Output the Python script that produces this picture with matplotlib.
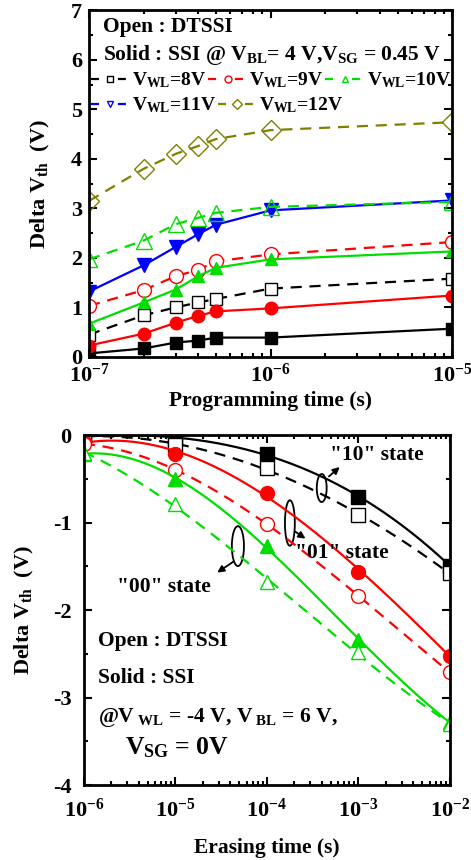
import matplotlib
matplotlib.use("Agg")
import matplotlib.pyplot as plt
from matplotlib.patches import Arc
from matplotlib.lines import Line2D
from matplotlib.ticker import LogLocator, MultipleLocator, NullFormatter
import numpy as np

plt.rcParams['font.family'] = ['Liberation Serif', 'DejaVu Serif']
plt.rcParams['font.weight'] = 'bold'
plt.rcParams['mathtext.fontset'] = 'custom'
plt.rcParams['mathtext.rm'] = 'Liberation Serif:bold'
plt.rcParams['mathtext.bf'] = 'Liberation Serif:bold'
plt.rcParams['mathtext.it'] = 'Liberation Serif:bold'
plt.rcParams['mathtext.default'] = 'rm'
plt.rcParams['axes.unicode_minus'] = False

# ---- programming (top) ----
t_prog = [1e-7, 2e-7, 3e-7, 4e-7, 5e-7, 1e-6, 1e-5]
ssi_8v = [0.07, 0.17, 0.29, 0.33, 0.39, 0.39, 0.57]
dtssi_8v = [0.45, 0.84, 1.00, 1.10, 1.17, 1.38, 1.58]
ssi_9v = [0.23, 0.47, 0.69, 0.83, 0.92, 0.98, 1.24]
dtssi_9v = [1.03, 1.35, 1.63, 1.76, 1.93, 2.07, 2.32]
ssi_10v = [0.67, 1.10, 1.36, 1.63, 1.80, 1.97, 2.13]
dtssi_10v = [1.97, 2.35, 2.68, 2.81, 2.91, 3.03, 3.13]
ssi_11v = [1.32, 1.85, 2.22, 2.48, 2.67, 2.96, 3.16]
dtssi_12v = [3.15, 3.80, 4.10, 4.26, 4.40, 4.58, 4.74]

# ---- erasing (bottom) ----
t_erase = [1e-6, 1e-5, 1e-4, 1e-3, 1e-2]
ssi_10 = [-0.01, -0.04, -0.21, -0.71, -1.49]
dtssi_10 = [-0.01, -0.11, -0.38, -0.91, -1.58]
ssi_01 = [-0.08, -0.21, -0.66, -1.56, -2.52]
dtssi_01 = [-0.10, -0.40, -1.01, -1.84, -2.71]
ssi_00 = [-0.21, -0.50, -1.27, -2.34, -3.28]
dtssi_00 = [-0.20, -0.79, -1.68, -2.48, -3.30]

BLACK, RED, GREEN, BLUE, OLIVE = 'black', '#ff0000', '#00dd00', '#0000ff', '#808000'
FS = 15.5
TFS = 16
LW = 1.6
DASH = (0, (5, 3.5))

fig = plt.figure(figsize=(4.71, 8.6), dpi=100)
ax1 = fig.add_axes([0.189, 0.585, 0.771, 0.403])
ax2 = fig.add_axes([0.178, 0.087, 0.777, 0.407])


def style_axis(ax, ypad):
    for s in ax.spines.values():
        s.set_linewidth(2)
    ax.tick_params(which='both', direction='in', top=True, right=True,
                   labelsize=TFS, width=1.5)
    ax.tick_params(axis='x', which='both', pad=5)
    ax.tick_params(axis='y', which='both', pad=ypad)
    ax.tick_params(which='major', length=6)
    ax.tick_params(which='minor', length=3)
    for lab in ax.get_xticklabels() + ax.get_yticklabels():
        lab.set_fontweight('bold')


# top panel
ax1.set_xscale('log')
ax1.plot(t_prog, ssi_8v, '-', color=BLACK, marker='s', ms=8, lw=LW)
ax1.plot(t_prog, dtssi_8v, linestyle=DASH, color=BLACK, marker='s', ms=9, mfc='white', lw=LW)
ax1.plot(t_prog, ssi_9v, '-', color=RED, marker='o', ms=9, lw=LW)
ax1.plot(t_prog, dtssi_9v, linestyle=DASH, color=RED, marker='o', ms=10, mfc='white', lw=LW)
ax1.plot(t_prog, ssi_10v, '-', color=GREEN, marker='^', ms=9, lw=LW)
ax1.plot(t_prog, ssi_11v, '-', color=BLUE, marker='v', ms=10, lw=LW)
ax1.plot(t_prog, dtssi_10v, linestyle=DASH, color=GREEN, marker='^', ms=11, mfc='none', lw=LW)
ax1.plot(t_prog, dtssi_12v, linestyle=DASH, color=OLIVE, marker='D', ms=10, mfc='none', lw=LW)
ax1.set_xlim(1e-7, 1e-5)
ax1.set_ylim(0, 7)
ax1.yaxis.set_major_locator(MultipleLocator(1))
ax1.yaxis.set_minor_locator(MultipleLocator(0.5))
ax1.xaxis.set_minor_locator(LogLocator(base=10, subs=np.arange(2, 10)))
ax1.xaxis.set_minor_formatter(NullFormatter())
style_axis(ax1, 5)
ax1.set_xlabel('Programming time (s)', fontsize=FS, fontweight='bold', labelpad=3)
ax1.set_ylabel(r'Delta V$_{th}$  (V)', fontsize=FS + 0.5, fontweight='bold', labelpad=14)

ax1.text(0.039, 0.951, 'Open : DTSSI', transform=ax1.transAxes, fontsize=FS,
         fontweight='bold', va='center')
ax1.text(0.039, 0.872, r'Solid : SSI @ V$_{BL}$= 4 V,V$_{SG}$ = 0.45 V',
         transform=ax1.transAxes, fontsize=FS, fontweight='bold', va='center')

leg_labels = [r'V$_{WL}$=8V', r'V$_{WL}$=9V', r'V$_{WL}$=10V', r'V$_{WL}$=11V', r'V$_{WL}$=12V']
leg_cols = [BLACK, RED, GREEN, BLUE, OLIVE]
leg_marks = ['s', 'o', '^', 'v', 'D']
handles = [Line2D([], [], color=c, linestyle=(0, (3.6, 8.5)), lw=LW, marker=m, ms=5,
                  mfc='none', mec=c) for c, m in zip(leg_cols, leg_marks)]
leg_kw = dict(loc='upper left', frameon=False, fontsize=14, handlelength=2.0,
              handletextpad=0.12, columnspacing=0.1, borderpad=0.0, borderaxespad=0.0)
leg1 = ax1.legend(handles[:3], leg_labels[:3], ncol=3, bbox_to_anchor=(0.005, 0.826), **leg_kw)
ax1.add_artist(leg1)
ax1.legend(handles[3:], leg_labels[3:], ncol=2, bbox_to_anchor=(0.005, 0.754), **leg_kw)

# bottom panel
ax2.set_xscale('log')
u = np.log10(t_erase)
uu = np.linspace(u[0], u[-1], 200)
curves = [(ssi_10, BLACK, 's', '-', None), (dtssi_10, BLACK, 's', DASH, 'white'),
          (ssi_01, RED, 'o', '-', None), (dtssi_01, RED, 'o', DASH, 'white'),
          (ssi_00, GREEN, '^', '-', None), (dtssi_00, GREEN, '^', DASH, 'white')]
for vals, c, m, ls, face in curves:
    coef = np.polyfit(u, vals, 3)
    ax2.plot(10 ** uu, np.polyval(coef, uu), linestyle=ls, color=c, lw=LW)
    ax2.plot(t_erase, vals, linestyle='none', marker=m, ms=10, color=c,
             mfc=face if face else c, mec=c)
ax2.set_xlim(1e-6, 1e-2)
ax2.set_ylim(-4, 0)
ax2.yaxis.set_major_locator(MultipleLocator(1))
ax2.yaxis.set_minor_locator(MultipleLocator(0.5))
ax2.xaxis.set_major_locator(LogLocator(base=10))
ax2.xaxis.set_minor_locator(LogLocator(base=10, subs=np.arange(2, 10)))
ax2.xaxis.set_minor_formatter(NullFormatter())
style_axis(ax2, 9)
ax2.tick_params(axis='x', which='both', pad=10)
ax2.set_xlabel('Erasing time (s)', fontsize=FS, fontweight='bold', labelpad=11)
ax2.set_ylabel(r'Delta V$_{th}$  (V)', fontsize=FS + 0.5, fontweight='bold', labelpad=12)

# state annotations
for cx, cy, w, h, tail, head, txt, tpos in [
        (0.650, 0.849, 0.027, 0.08, (0.664, 0.877), (0.705, 0.914), '"10" state', (0.672, 0.943)),
        (0.563, 0.749, 0.027, 0.13, (0.571, 0.729), (0.612, 0.700), '"01" state', (0.577, 0.663)),
        (0.421, 0.683, 0.033, 0.114, (0.415, 0.643), (0.358, 0.603), '"00" state', (0.090, 0.566))]:
    ax2.add_patch(Arc((cx, cy), w, h, transform=ax2.transAxes, lw=1.3, color='black'))
    ax2.annotate('', xy=head, xytext=tail, xycoords='axes fraction',
                 arrowprops=dict(arrowstyle='-|>', color='black', lw=1.3, mutation_scale=10))
    ax2.text(tpos[0], tpos[1], txt, transform=ax2.transAxes, fontsize=FS,
             fontweight='bold', va='center')

ax2.text(0.038, 0.411, 'Open : DTSSI', transform=ax2.transAxes, fontsize=FS,
         fontweight='bold', va='center')
ax2.text(0.038, 0.306, 'Solid : SSI', transform=ax2.transAxes, fontsize=FS,
         fontweight='bold', va='center')
ax2.text(0.038, 0.194, r'@V$_{\ WL}$ = -4 V, V$_{\ BL}$ = 6 V,', transform=ax2.transAxes,
         fontsize=FS, fontweight='bold', va='center')
ax2.text(0.112, 0.106, r'V$_{SG}$ = 0V', transform=ax2.transAxes, fontsize=FS + 3,
         fontweight='bold', va='center')

fig.savefig('out.png', dpi=100)
